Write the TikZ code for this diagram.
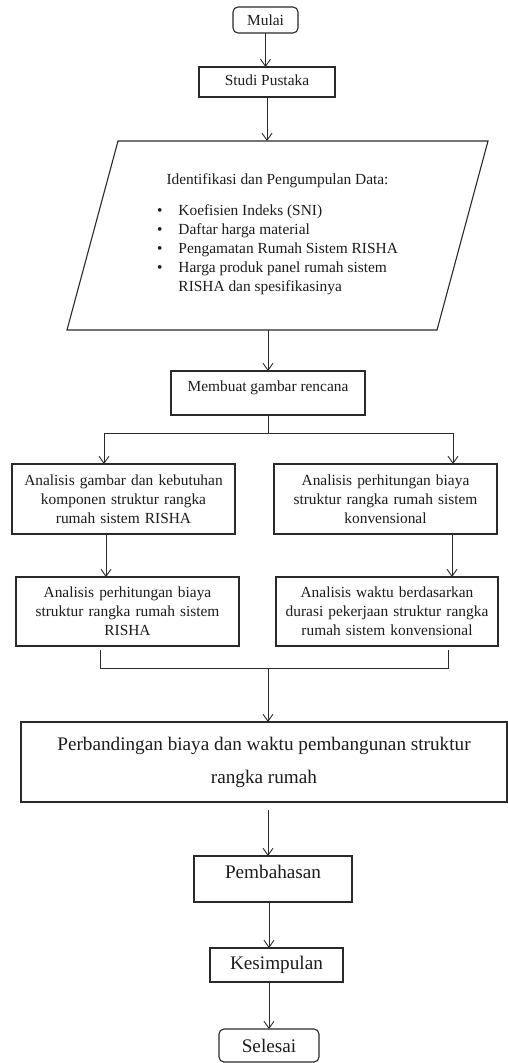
\documentclass[tikz,border=0pt]{standalone}
\usepackage{fontspec}
\setmainfont{Liberation Serif}
\usetikzlibrary{positioning,arrows.meta}
\definecolor{InkDark}{HTML}{1C1C1C}
\definecolor{EdgeGray}{HTML}{2A2A2A}
\newcommand{\flowsmall}{\fontsize{15.4}{19}\selectfont}
\newcommand{\flowlarge}{\fontsize{19.2}{33}\selectfont}

\begin{document}
\begin{tikzpicture}[x=1pt, y=1pt,
  every node/.style={font=\flowsmall, text=InkDark, outer sep=0pt},
  boxline/.style={draw=EdgeGray, line width=1.1pt},
  procbox/.style={boxline, inner sep=0pt, align=center},
  termbox/.style={procbox, rounded corners=5pt},
  flowline/.style={draw=EdgeGray, line width=0.9pt},
  flowarrow/.style={flowline, -{Straight Barb[length=7pt,width=10pt]}}]
  \useasboundingbox (0,0) rectangle (508,-1063);

  % main column, top part
  \node[termbox, minimum width=65pt, minimum height=26pt] (mulai) at (265.5,-20) {Mulai};
  \node[procbox, minimum width=136pt, minimum height=30pt, text depth=4pt, below=34pt of mulai, xshift=1.5pt] (studi) {Studi Pustaka};
  \node[inner sep=0pt, align=center, minimum width=421pt, minimum height=189pt, below=44pt of studi, xshift=10.5pt] (data)
    {Identifikasi dan Pengumpulan Data:\\[12pt]
     \begin{tabular}[t]{@{}l@{\hspace{16pt}}l@{}}
       \textbullet & Koefisien Indeks (SNI)\\
       \textbullet & Daftar harga material\\
       \textbullet & Pengamatan Rumah Sistem RISHA\\
       \textbullet & Harga produk panel rumah sistem\\
                   & RISHA dan spesifikasinya
     \end{tabular}};
  \draw[boxline] ([xshift=51pt]data.north west) -- (data.north east)
    -- ([xshift=-51pt]data.south east) -- (data.south west) -- cycle;
  \node[procbox, minimum width=194pt, minimum height=44pt, text height=10.5pt, text depth=13.5pt, below=41pt of data, xshift=-9.5pt] (membuat) {Membuat gambar rencana};

  % two branches
  \node[procbox, text width=215pt, minimum width=223pt, minimum height=70pt, below=49pt of membuat, xshift=-144.5pt] (gambarRisha)
    {Analisis gambar dan kebutuhan\\komponen struktur rangka\\rumah sistem RISHA};
  \node[procbox, text width=215pt, minimum width=223pt, minimum height=70pt, right=39pt of gambarRisha] (biayaKonv)
    {Analisis perhitungan biaya\\struktur rangka rumah sistem\\konvensional};
  \node[procbox, text width=215pt, minimum width=223pt, minimum height=69pt, below=43pt of gambarRisha, xshift=4pt] (biayaRisha)
    {Analisis perhitungan biaya\\struktur rangka rumah sistem\\RISHA};
  \node[procbox, text width=215pt, minimum width=222pt, minimum height=69pt, right=37pt of biayaRisha] (waktuKonv)
    {Analisis waktu berdasarkan\\durasi pekerjaan struktur rangka\\rumah sistem konvensional};

  % main column, bottom part
  \node[procbox, font=\flowlarge, minimum width=486pt, minimum height=80pt, below=76pt of biayaRisha, xshift=136.5pt] (banding)
    {Perbandingan biaya dan waktu pembangunan struktur\\rangka rumah};
  \node[procbox, font=\flowlarge, minimum width=158pt, minimum height=46pt, text height=13pt, text depth=14pt, below=54pt of banding, xshift=9pt] (bahas) {Pembahasan};
  \node[procbox, font=\flowlarge, minimum width=133pt, minimum height=34pt, below=46pt of bahas, xshift=3.5pt] (simpul) {Kesimpulan};
  \node[termbox, font=\flowlarge, minimum width=100pt, minimum height=33pt, below=47pt of simpul, xshift=-7.5pt] (selesai) {Selesai};

  % connectors
  \draw[flowarrow] (mulai.south) -- (mulai.south |- studi.north);
  \draw[flowarrow] (studi.south) -- (studi.south |- data.north);
  \draw[flowarrow] (membuat.north |- data.south) -- (membuat.north);
  \draw[flowline] (membuat.south) -- ++(0,-18) coordinate (split);
  \draw[flowarrow] (split) -| ([xshift=-19.5pt]gambarRisha.north);
  \draw[flowarrow] (split) -| ([xshift=67.5pt]biayaKonv.north);
  \draw[flowarrow] ([xshift=-17.5pt]gambarRisha.south) -- ([xshift=-21.5pt]biayaRisha.north);
  \draw[flowarrow] ([xshift=66.5pt]biayaKonv.south) -- ([xshift=65pt]waktuKonv.north);
  \draw[flowline, shorten <=4pt, shorten >=4pt] ([xshift=-27.5pt]biayaRisha.south) -- ++(0,-22) coordinate (joinL)
    -| ([xshift=61pt]waktuKonv.south);
  \draw[flowarrow] (membuat.south |- joinL) -- (membuat.south |- banding.north);
  \draw[flowarrow, shorten <=8pt] (membuat.south |- banding.south) -- (membuat.south |- bahas.north);
  \draw[flowarrow] (selesai.north |- bahas.south) -- (selesai.north |- simpul.north);
  \draw[flowarrow] (selesai.north |- simpul.south) -- (selesai.north);
\end{tikzpicture}
\end{document}
